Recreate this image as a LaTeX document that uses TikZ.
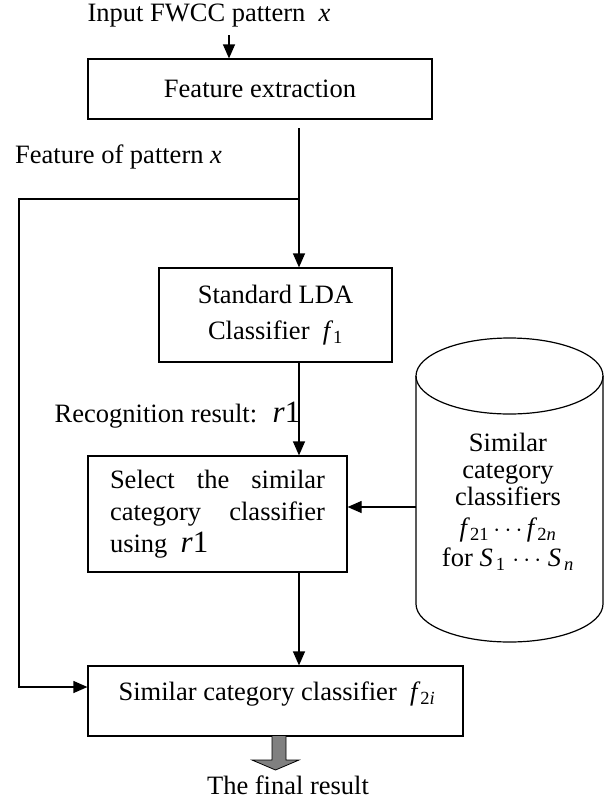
\documentclass[tikz,border=0pt]{standalone}
\usepackage{fontspec}
\setmainfont{Liberation Serif}
\usetikzlibrary{arrows.meta,calc}
\newcommand{\myrone}{{\fontsize{31}{31}\selectfont\textit{r}1}}
\begin{document}
\begin{tikzpicture}[x=1pt,y=-1pt,
  every node/.style={font=\fontsize{26.5}{30}\selectfont, inner sep=0pt},
  box/.style={draw, line width=1.2pt, rectangle},
  line/.style={line width=1.2pt},
  arr/.style={line width=1.2pt, -{Triangle[length=14pt,width=12pt]}},
]
\useasboundingbox (0,0) rectangle (611,801);

% input
\node (inlbl) at (209,16) {Input FWCC pattern \ \textit{x}};
\node[box, minimum width=344, minimum height=60] (fe) at (260,89) {Feature extraction};
\coordinate (inarr) at (229,35);
\draw[arr] (inarr) -- (inarr |- fe.north);

% feature label and main line
\node[anchor=west] (featlbl) at (15,157) {Feature of pattern \textit{x}};
\coordinate (vtop) at (299,128);
\coordinate (junc) at (299,199);
\coordinate (lcorner) at (19,199);
\coordinate (lbot) at (19,687);

\node[box, minimum width=233, minimum height=94, align=center,
      font=\fontsize{26.5}{36}\selectfont] (lda) at (275.5,315)
      {Standard LDA\\Classifier \ \textit{f}\textsubscript{1}};
\draw[arr] (vtop) -- (vtop |- lda.north);

\node (reclbl) at (177.5,415) {Recognition result: \ \myrone};

\node[box, minimum width=259, minimum height=116] (sel) at (217.5,514) {};
\node[align=left, font=\fontsize{26.5}{32}\selectfont] (seltxt) at (217.5,514)
  {\makebox[215pt][s]{Select the similar}\\\makebox[215pt][s]{category classifier}\\using \ \myrone};
\draw[arr] (lda.south -| vtop) -- (sel.north -| vtop);

% cylinder
\node[minimum width=187, minimum height=304] (cyl) at (509.5,490) {};
\draw[line] (509.5,376) ellipse [x radius=93.5, y radius=38];
\draw[line] (416,376) -- (416,604) .. controls (416,625) and (457.9,642) .. (509.5,642)
  .. controls (561.1,642) and (603,625) .. (603,604) -- (603,376);
\node[align=center, font=\fontsize{26.5}{27}\selectfont] (cyltxt) at (508,502)
  {Similar\\category\\classifiers\\[4pt]\textit{f}\textsubscript{21}\,$\cdots$\,\textit{f}\textsubscript{2\textit{n}}\\[3pt]for \textit{S}\textsubscript{\,1} $\cdots$ \textit{S}\textsubscript{\,\textit{n}}};
\coordinate (cylarr) at (cyl.west |- 0,507);
\draw[arr] (cylarr) -- (cylarr -| sel.east);

% final classifier
\node[box, minimum width=375, minimum height=70] (sim) at (275.5,701) {};
\node (simtxt) at (277,694) {Similar category classifier \ \textit{f}\textsubscript{2\textit{i}}};
\draw[arr] (sel.south -| vtop) -- (sim.north -| vtop);
\draw[arr] (junc) -- (lcorner) -- (lbot) -- (lbot -| sim.west);

% output arrow
\node (final) at (288,785) {The final result};
\draw[line width=0.8pt, fill=gray] (272,736) -- (272,760) -- (252,760) -- (275.5,770)
  -- (299,760) -- (286,760) -- (286,736);
\path (fe.south -| vtop) ++(0,9) coordinate (vstart);
\draw[line] (vstart) -- (junc);
\end{tikzpicture}
\end{document}
